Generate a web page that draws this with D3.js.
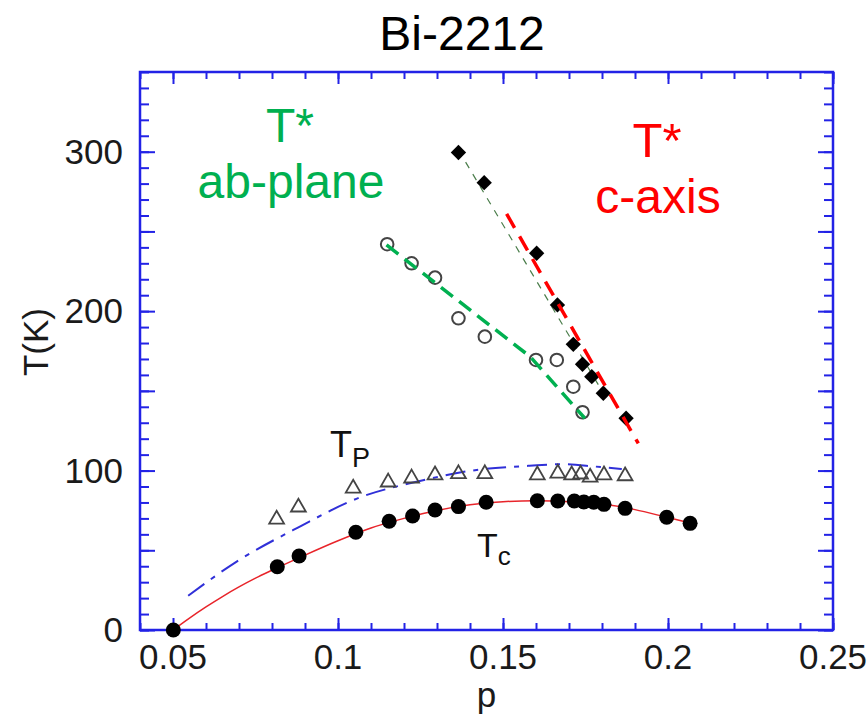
<!DOCTYPE html>
<html>
<head>
<meta charset="utf-8">
<script src="https://cdn.jsdelivr.net/npm/d3@7"></script>
<style>
  body { margin: 0; background: #fff; }
  svg text { font-family: Arial, "Liberation Sans", sans-serif; }
</style>
</head>
<body>
<div id="chart"></div>
<script>
// Tc (filled circles)
var tcP = [0.0501, 0.0816, 0.0882, 0.1054, 0.1155, 0.1226, 0.1294, 0.1365, 0.1449, 0.1604, 0.1666, 0.1716, 0.1745, 0.1775, 0.1806, 0.187, 0.1996, 0.2067];
var tcT = [0, 39.7, 46.4, 61.3, 68.2, 71.5, 75.3, 77.4, 80.1, 81.1, 80.9, 80.9, 80.3, 80.1, 78.8, 76.3, 70.7, 66.9];
// Tc guide curve (red)
var tcCurveP = [0.05, 0.055, 0.06, 0.065, 0.07, 0.075, 0.08, 0.09, 0.1, 0.11, 0.12, 0.13, 0.14, 0.15, 0.16, 0.17, 0.18, 0.19, 0.2, 0.207];
var tcCurveT = [0, 7.5, 14.5, 21, 27, 32.5, 37.5, 47, 56, 64, 70, 75, 78.5, 80.5, 81, 80.5, 79, 75.5, 70.5, 67];
// Tp (open triangles) + blue dash-dot curve
var tpP = [0.0814, 0.088, 0.1046, 0.1152, 0.1223, 0.1294, 0.1365, 0.1445, 0.1604, 0.1666, 0.1708, 0.1735, 0.1764, 0.1806, 0.187];
var tpT = [69.4, 77, 88.9, 92.7, 95.2, 97.2, 97.9, 97.9, 97.2, 98.3, 97.2, 97.7, 95.8, 97.2, 96.6];
var tpCurveP = [0.0546, 0.0693, 0.088, 0.1067, 0.1238, 0.142, 0.158, 0.168, 0.178, 0.186];
var tpCurveT = [21.5, 42.9, 64.4, 83.2, 93, 100.4, 103, 104, 102.5, 101];
// T* ab-plane (open circles)
var abP = [0.1149, 0.1223, 0.1294, 0.1365, 0.1445, 0.16, 0.1663, 0.1713, 0.1741];
var abT = [242, 230, 221, 195.5, 184, 169.4, 169.4, 152.6, 136.6];
var abFitP = [0.1147, 0.1582, 0.1748];
var abFitT = [241.5, 171.5, 132.8];
// T* c-axis (filled diamonds)
var cP = [0.1365, 0.1443, 0.1602, 0.1665, 0.1713, 0.1741, 0.1769, 0.1804, 0.1873];
var cT = [299.5, 280.6, 236.3, 203.9, 179.2, 166.7, 158.9, 148.5, 132.8];
var cFitP = [0.1511, 0.191];
var cFitT = [261, 117];
var cThinP = [0.1365, 0.18];
var cThinT = [301, 150];

var xTicks = [0.05, 0.1, 0.15, 0.2, 0.25];
var yTicks = [0, 100, 200, 300];
var yMid = [50, 150, 250];

var width = 867, height = 721;
var margin = {top: 72, right: 34, bottom: 91, left: 140};
var blue = "#2222e6";

var svg = d3.select("#chart").append("svg")
    .attr("width", width)
    .attr("height", height);

var x = d3.scaleLinear().domain([0.04, 0.25]).range([margin.left, width - margin.right]);
var y = d3.scaleLinear().domain([0, 350]).range([height - margin.bottom, margin.top]);

function zip(a, b) {
    return a.map(function (d, i) { return [d, b[i]]; });
}

// ticks, inward on all four sides
var xMinor = d3.range(0.04, 0.2501, 0.01).map(function (d) { return +d.toFixed(2); });
var yMinor = d3.range(0, 351, 10);

function tickAxis(axisFn, scale, values, size, pos) {
    var g = svg.append("g")
        .attr("transform", pos)
        .call(axisFn(scale).tickValues(values).tickSize(size).tickFormat(""));
    g.select(".domain").remove();
    g.selectAll("line").attr("stroke", blue).attr("stroke-width", 2);
}

var bottomY = y(0), topY = y(350), leftX = x(0.04), rightX = x(0.25);
tickAxis(d3.axisBottom, x, xMinor, -7, "translate(0," + bottomY + ")");
tickAxis(d3.axisBottom, x, xTicks, -12, "translate(0," + bottomY + ")");
tickAxis(d3.axisTop, x, xMinor, -7, "translate(0," + topY + ")");
tickAxis(d3.axisTop, x, xTicks, -12, "translate(0," + topY + ")");
tickAxis(d3.axisLeft, y, yMinor, -9, "translate(" + leftX + ",0)");
tickAxis(d3.axisLeft, y, yTicks.concat(yMid), -15, "translate(" + leftX + ",0)");
tickAxis(d3.axisRight, y, yMinor, -9, "translate(" + rightX + ",0)");
tickAxis(d3.axisRight, y, yTicks.concat(yMid), -15, "translate(" + rightX + ",0)");

svg.append("rect")
    .attr("x", leftX)
    .attr("y", topY)
    .attr("width", rightX - leftX)
    .attr("height", bottomY - topY)
    .attr("fill", "none")
    .attr("stroke", blue)
    .attr("stroke-width", 2.5);

// tick labels
svg.selectAll(".xlab")
    .data(xTicks)
    .enter()
    .append("text")
    .attr("x", function (d) { return x(d); })
    .attr("y", bottomY + 39)
    .attr("text-anchor", "middle")
    .style("font-size", "35px")
    .attr("fill", "#1a1a1a")
    .text(function (d) { return d3.format("")(d); });

svg.selectAll(".ylab")
    .data(yTicks)
    .enter()
    .append("text")
    .attr("x", leftX - 17)
    .attr("y", function (d) { return y(d) + 12; })
    .attr("text-anchor", "end")
    .style("font-size", "35px")
    .attr("fill", "#1a1a1a")
    .text(function (d) { return d; });

// axis titles
svg.append("text")
    .attr("x", (leftX + rightX) / 2)
    .attr("y", 707)
    .attr("text-anchor", "middle")
    .style("font-size", "35px")
    .attr("fill", "#1a1a1a")
    .text("p");

svg.append("text")
    .attr("transform", "translate(48," + 342 + ") rotate(-90)")
    .attr("text-anchor", "middle")
    .style("font-size", "35px")
    .attr("fill", "#1a1a1a")
    .text("T(K)");

svg.append("text")
    .attr("x", 462)
    .attr("y", 50)
    .attr("text-anchor", "middle")
    .style("font-size", "48px")
    .attr("fill", "#000")
    .text("Bi-2212");

var line = d3.line()
    .x(function (d) { return x(d[0]); })
    .y(function (d) { return y(d[1]); });
var curve = d3.line()
    .curve(d3.curveMonotoneX)
    .x(function (d) { return x(d[0]); })
    .y(function (d) { return y(d[1]); });

// curves
svg.append("path")
    .attr("d", curve(zip(tcCurveP, tcCurveT)))
    .attr("fill", "none")
    .attr("stroke", "#e8242a")
    .attr("stroke-width", 1.5);

svg.append("path")
    .attr("d", curve(zip(tpCurveP, tpCurveT)))
    .attr("fill", "none")
    .attr("stroke", "#3030d8")
    .attr("stroke-width", 2)
    .attr("stroke-dasharray", "20,8,5,8");

svg.append("path")
    .attr("d", line(zip(cThinP, cThinT)))
    .attr("fill", "none")
    .attr("stroke", "#4a7d4a")
    .attr("stroke-width", 1.2)
    .attr("stroke-dasharray", "7,7");

// markers
svg.selectAll(".tp")
    .data(zip(tpP, tpT))
    .enter()
    .append("path")
    .attr("transform", function (d) { return "translate(" + x(d[0]) + "," + y(d[1]) + ")"; })
    .attr("d", d3.symbol().type(d3.symbolTriangle).size(95))
    .attr("fill", "none")
    .attr("stroke", "#444")
    .attr("stroke-width", 1.8);

svg.selectAll(".tc")
    .data(zip(tcP, tcT))
    .enter()
    .append("circle")
    .attr("cx", function (d) { return x(d[0]); })
    .attr("cy", function (d) { return y(d[1]); })
    .attr("r", 7.5)
    .attr("fill", "#000");

svg.selectAll(".ab")
    .data(zip(abP, abT))
    .enter()
    .append("circle")
    .attr("cx", function (d) { return x(d[0]); })
    .attr("cy", function (d) { return y(d[1]); })
    .attr("r", 6.3)
    .attr("fill", "none")
    .attr("stroke", "#444")
    .attr("stroke-width", 2);

svg.selectAll(".c")
    .data(zip(cP, cT))
    .enter()
    .append("path")
    .attr("transform", function (d) { return "translate(" + x(d[0]) + "," + y(d[1]) + ")"; })
    .attr("d", d3.symbol().type(d3.symbolDiamond2).size(150))
    .attr("fill", "#000");

// T* fit lines drawn over the markers
svg.append("path")
    .attr("d", line(zip(abFitP, abFitT)))
    .attr("fill", "none")
    .attr("stroke", "#00b050")
    .attr("stroke-width", 3.5)
    .attr("stroke-dasharray", "15,8");

svg.append("path")
    .attr("d", line(zip(cFitP, cFitT)))
    .attr("fill", "none")
    .attr("stroke", "#ff0000")
    .attr("stroke-width", 3.5)
    .attr("stroke-dasharray", "16,10");

// annotations
function label(txt, cx, cy, size, color) {
    svg.append("text")
        .attr("x", cx)
        .attr("y", cy)
        .attr("text-anchor", "middle")
        .style("font-size", size + "px")
        .attr("fill", color)
        .text(txt);
}
label("T*", 290, 142, 48, "#00b050");
label("ab-plane", 291, 198, 48, "#00b050");
label("T*", 657, 157, 49, "#ff0000");
label("c-axis", 658, 213, 48, "#ff0000");

var tpLab = svg.append("text").attr("x", 330).attr("y", 457).attr("fill", "#111");
tpLab.append("tspan").style("font-size", "36px").text("T");
tpLab.append("tspan").style("font-size", "27px").attr("dy", 10).text("P");

var tcLab = svg.append("text").attr("x", 477).attr("y", 557).attr("fill", "#111");
tcLab.append("tspan").style("font-size", "34px").text("T");
tcLab.append("tspan").style("font-size", "26px").attr("dy", 8).text("c");
</script>
</body>
</html>
